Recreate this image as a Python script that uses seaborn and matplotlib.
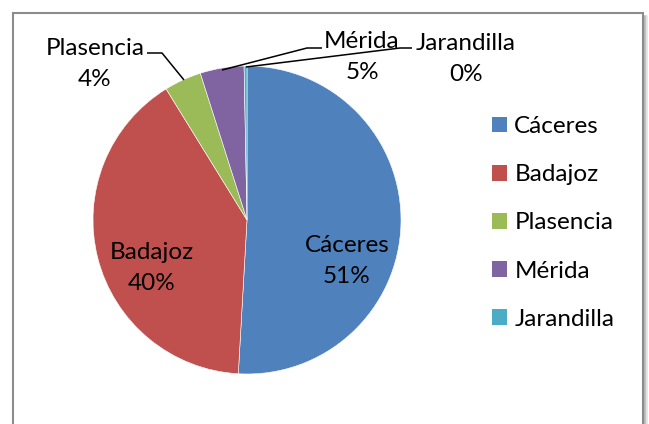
import numpy as np
import matplotlib
matplotlib.use("Agg")
import matplotlib.pyplot as plt
import seaborn as sns
from matplotlib.patches import Rectangle

# data (share of total, percent)
ciudades = ['Cáceres', 'Badajoz', 'Plasencia', 'Mérida', 'Jarandilla']
valores = [50.9, 40.3, 3.9, 4.6, 0.3]
colores = ['#4F81BD', '#C0504D', '#9BBB59', '#8064A2', '#4BACC6']

sns.set_theme(style='white')
plt.rcParams['font.family'] = ['Lato', 'DejaVu Sans']
plt.rcParams['text.color'] = 'black'

W, H = 649, 424
FS = 17.5
LS = 1.64

fig = plt.figure(figsize=(W / 100, H / 100), dpi=100)
ax = fig.add_axes([0, 0, 1, 1])


def Y(y):
    # pixel row -> data y
    return H - y


cx, cy, r = 247, Y(220), 154
wedges, _ = ax.pie(valores, colors=sns.color_palette(colores), startangle=90,
                   counterclock=False, center=(cx, cy), radius=r,
                   wedgeprops=dict(edgecolor='white', linewidth=0.4))
ax.set_xlim(0, W)
ax.set_ylim(0, H)
ax.set_aspect('equal')
ax.axis('off')

total = sum(valores)
pct = [f'{v / total * 100:.0f}%' for v in valores]

tk = dict(ha='center', va='center', fontsize=FS, linespacing=LS)
# inside labels
ax.text(347, Y(261), f'{ciudades[0]}\n{pct[0]}', **tk)
ax.text(152, Y(268), f'{ciudades[1]}\n{pct[1]}', **tk)

# outside labels
ax.text(95, Y(64), f'{ciudades[2]}\n{pct[2]}', **tk)
ax.text(362, Y(57), f'{ciudades[3]}\n{pct[3]}', **tk)
ax.text(466, Y(59), f'{ciudades[4]}\n{pct[4]}', **tk)

# leader lines
lk = dict(color='black', lw=1.1, solid_capstyle='butt')
ax.plot([147, 162, 184], [Y(53), Y(53), Y(80)], **lk)
ax.plot([222, 307, 322], [Y(70), Y(48), Y(48)], **lk)
ax.plot([246, 400, 412], [Y(67), Y(48), Y(48)], **lk)

# legend
leg = ax.legend(wedges, ciudades, loc='upper left',
                bbox_to_anchor=(492, Y(116)), bbox_transform=ax.transData,
                frameon=False, fontsize=FS, handlelength=0.62,
                handleheight=0.62, handletextpad=0.3, labelspacing=1.12,
                borderpad=0, borderaxespad=0)
for h in leg.legend_handles:
    h.set_edgecolor('none')

# chart area frame with a soft shadow on the right
fig.patches.append(Rectangle((13 / W, -0.1), 630 / W, (H - 13) / H + 0.1,
                             transform=fig.transFigure, fill=False,
                             edgecolor='#8C8C8C', lw=1.5))
for i, c in enumerate(['#A6A6A6', '#C8C8C8', '#E4E4E4']):
    fig.lines.append(plt.Line2D([(645 + i) / W] * 2, [-0.1, (H - 16) / H],
                                transform=fig.transFigure, color=c, lw=1.2))

fig.savefig('out.png', dpi=100, facecolor='white')
